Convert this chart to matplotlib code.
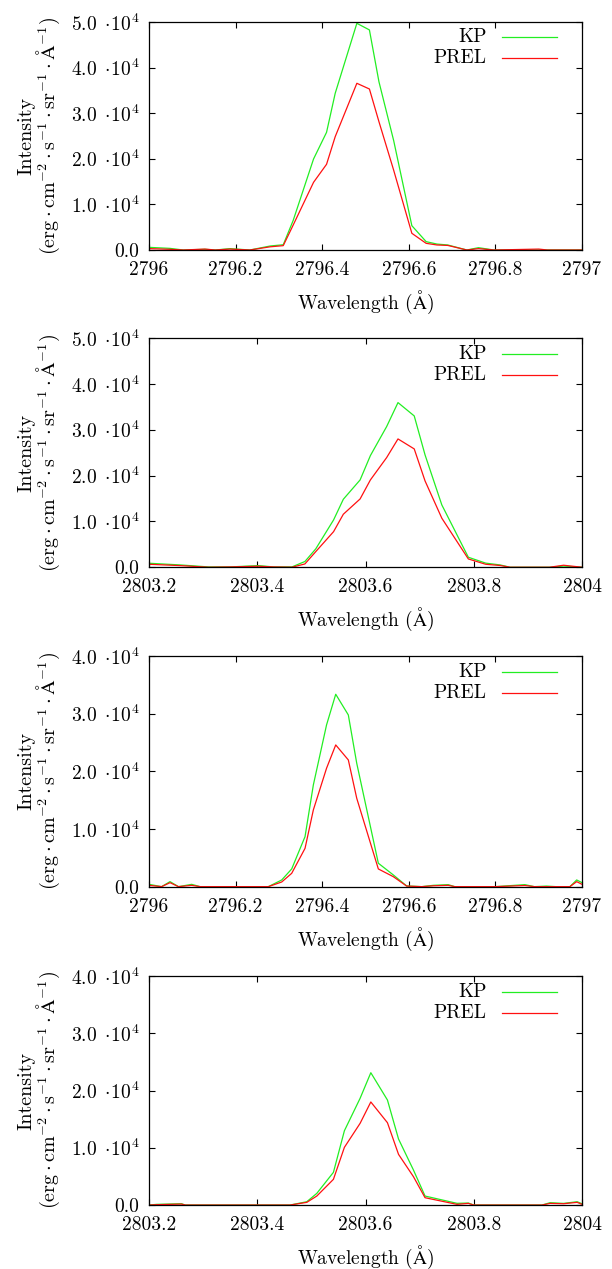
import matplotlib
matplotlib.use("Agg")
import matplotlib.pyplot as plt
from matplotlib.ticker import FuncFormatter, MultipleLocator


plt.rcParams["font.family"] = ["cmr10", "DejaVu Serif"]
plt.rcParams["mathtext.fontset"] = "cm"
plt.rcParams["axes.formatter.use_mathtext"] = True
plt.rcParams["axes.unicode_minus"] = False

# panel 1: Mg II k, 2796 A
wl_k1 = [2796.000, 2796.048, 2796.079, 2796.129, 2796.153, 2796.187, 2796.233,
         2796.280, 2796.310, 2796.333, 2796.380, 2796.410, 2796.430, 2796.480,
         2796.509, 2796.531, 2796.565, 2796.607, 2796.640, 2796.665, 2796.690,
         2796.734, 2796.761, 2796.796, 2796.850, 2796.900, 2796.920, 2797.000]
kp_k1 = [580, 360, 0, 150, 0, 300, 0,
         880, 1150, 6500, 19960, 25800, 34360, 49700,
         48250, 36900, 24000, 5330, 1830, 1300, 1100,
         0, 510, 0, 0, 0, 0, 0]
prel_k1 = [300, 150, 0, 200, 0, 200, 0,
           700, 950, 5480, 14840, 18790, 24850, 36550,
           35300, 28140, 17500, 3660, 1460, 1100, 1000,
           0, 300, 0, 100, 200, 0, 0]

# panel 2: Mg II h, 2803 A
wl_h1 = [2803.200, 2803.257, 2803.310, 2803.350, 2803.402, 2803.430, 2803.464,
         2803.488, 2803.508, 2803.541, 2803.559, 2803.590, 2803.609, 2803.639,
         2803.660, 2803.690, 2803.710, 2803.741, 2803.790, 2803.822, 2803.849,
         2803.867, 2803.940, 2803.966, 2804.000]
kp_h1 = [870, 510, 70, 70, 360, 70, 70,
         1250, 4000, 10330, 14840, 19060, 24370, 30700,
         35940, 33030, 24520, 13600, 2180, 900, 500,
         0, 0, 250, 0]
prel_h1 = [650, 360, 0, 70, 220, 70, 0,
           720, 3400, 7770, 11570, 14910, 19060, 23930,
           28010, 25830, 18840, 10700, 1810, 650, 380,
           0, 0, 440, 0]

# panel 3: Mg II k, 2796 A
wl_k2 = [2796.000, 2796.029, 2796.0485, 2796.068, 2796.0985, 2796.118, 2796.200,
         2796.2756, 2796.3065, 2796.3295, 2796.3603, 2796.3795, 2796.410,
         2796.4312, 2796.4603, 2796.4797, 2796.5296, 2796.5642, 2796.595,
         2796.630, 2796.6567, 2796.691, 2796.706, 2796.800, 2796.868, 2796.890,
         2796.918, 2796.940, 2796.972, 2796.9877, 2797.000]
kp_k2 = [400, 0, 870, 0, 400, 0, 0,
         0, 1160, 3070, 8670, 17630, 28040,
         33360, 29770, 21400, 4060, 2030, 120,
         0, 230, 350, 0, 0, 350, 0,
         100, 0, 0, 1160, 690]
prel_k2 = [230, 0, 690, 0, 230, 0, 0,
           0, 810, 2310, 6640, 13300, 20530,
           24570, 21970, 15330, 3070, 1730, 100,
           0, 150, 230, 0, 0, 200, 0,
           0, 0, 0, 870, 400]

# panel 4: Mg II h, 2803 A
wl_h2 = [2803.200, 2803.214, 2803.260, 2803.267, 2803.400, 2803.4606, 2803.4915,
         2803.510, 2803.5407, 2803.561, 2803.590, 2803.6098, 2803.6405, 2803.661,
         2803.6886, 2803.710, 2803.769, 2803.790, 2803.800, 2803.926, 2803.941,
         2803.966, 2803.991, 2804.000]
kp_h2 = [0, 120, 230, 0, 0, 0, 580,
         2040, 5710, 12980, 18640, 23110, 18340, 11530,
         6110, 1570, 300, 350, 0, 0, 410,
         290, 580, 230]
prel_h2 = [0, 60, 170, 0, 0, 0, 470,
           1570, 4490, 10080, 14270, 18000, 14380, 8850,
           4950, 1280, 120, 290, 0, 0, 290,
           230, 470, 120]

panels = [
    (wl_k1, kp_k1, prel_k1, (2796, 2797), 5e4),
    (wl_h1, kp_h1, prel_h1, (2803.2, 2804), 5e4),
    (wl_k2, kp_k2, prel_k2, (2796, 2797), 4e4),
    (wl_h2, kp_h2, prel_h2, (2803.2, 2804), 4e4),
]
# axes boxes in figure fractions [left, bottom, width, height]
boxes = [
    [0.2435, 0.803, 0.7075, 0.1797],
    [0.2435, 0.553, 0.7075, 0.1805],
    [0.2435, 0.3013, 0.7075, 0.1818],
    [0.2435, 0.0504, 0.7075, 0.1805],
]

GREEN = "#22ee22"
RED = "#ff1010"


def ytick(v, pos):
    if abs(v) < 1:
        return "0.0"
    return r"$%.1f\ \cdot\! 10^{4}$" % (v / 1e4)


def xtick(v, pos):
    return "%g" % round(v, 3)


fig = plt.figure(figsize=(6.12, 12.69), dpi=100)

for (wl, kp, prel, xlim, ymax), box in zip(panels, boxes):
    ax = fig.add_axes(box)
    ax.plot(wl, kp, color=GREEN, lw=0.9)
    ax.plot(wl, prel, color=RED, lw=0.9)
    ax.set_xlim(*xlim)
    ax.set_ylim(0, ymax)
    ax.xaxis.set_major_locator(MultipleLocator(0.2))
    ax.yaxis.set_major_locator(MultipleLocator(1e4))
    ax.xaxis.set_major_formatter(FuncFormatter(xtick))
    ax.yaxis.set_major_formatter(FuncFormatter(ytick))
    ax.tick_params(direction="in", top=True, right=True, length=4, width=0.8,
                   labelsize=14)
    ax.tick_params(axis="x", pad=8)
    ax.tick_params(axis="y", pad=7)
    for s in ax.spines.values():
        s.set_linewidth(0.9)
    ax.set_xlabel(r"Wavelength ($\mathrm{\AA}$)", fontsize=14, labelpad=7)
    ax.set_ylabel("Intensity\n" + r"$(\mathrm{erg}\cdot\mathrm{cm}^{-2}\cdot"
                  r"\mathrm{s}^{-1}\cdot\mathrm{sr}^{-1}\cdot\mathrm{\AA}^{-1})$",
                  fontsize=14.5, labelpad=6, linespacing=1.0)

    # gnuplot-style key: label right-aligned, sample line after it
    for name, col, yk in [("KP", GREEN, 0.932), ("PREL", RED, 0.84)]:
        ax.text(0.78, yk, name, transform=ax.transAxes, ha="right",
                va="center", fontsize=14)
        ax.plot([0.815, 0.942], [yk, yk], color=col, lw=0.9,
                transform=ax.transAxes)

fig.savefig("out.png", dpi=100)
